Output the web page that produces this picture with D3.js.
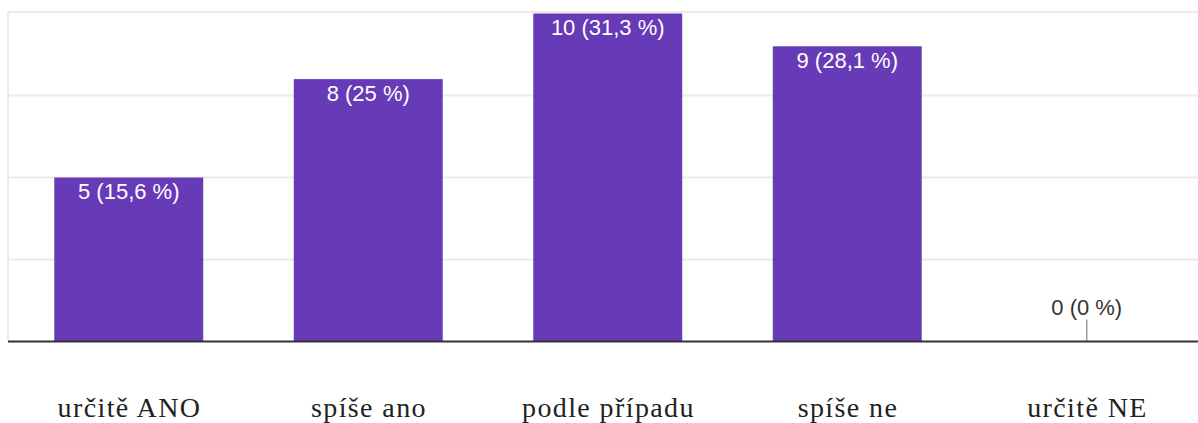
<!DOCTYPE html>
<html><head><meta charset="utf-8">
<script src="https://cdn.jsdelivr.net/npm/d3@7"></script>
<style>html,body{margin:0;padding:0;background:#fff;}svg{display:block;}</style>
</head><body>
<svg id="c" width="1198" height="423"></svg>
<script>
const categories = ["určitě ANO", "spíše ano", "podle případu", "spíše ne", "určitě NE"];
const counts = [5, 8, 10, 9, 0];
const labels = ["5 (15,6 %)", "8 (25 %)", "10 (31,3 %)", "9 (28,1 %)", "0 (0 %)"];
const gridTicks = [0, 2.5, 5, 7.5, 10];

const svg = d3.select("#c");
const plotLeft = 8, plotTop = 13.5, plotBottom = 341.5;
const x = d3.scaleBand().domain(categories).range([9, 9 + 5 * 239.5]).paddingInner(0.378).paddingOuter(0.189);
const y = d3.scaleLinear().domain([0, 10]).range([plotBottom, plotTop]);

// gridlines
svg.append("g").selectAll("line").data(gridTicks.filter(d => d > 0)).join("line")
  .attr("x1", plotLeft).attr("x2", 1198)
  .attr("y1", d => d === 10 ? 12 : y(d)).attr("y2", d => d === 10 ? 12 : y(d))
  .attr("stroke", "#ebebeb").attr("stroke-width", 2);
svg.append("line").attr("x1", plotLeft).attr("x2", plotLeft).attr("y1", 11).attr("y2", plotBottom)
  .attr("stroke", "#ebebeb").attr("stroke-width", 2);

// bars
svg.append("g").selectAll("rect").data(counts).join("rect")
  .attr("x", (d, i) => x(categories[i]))
  .attr("width", x.bandwidth())
  .attr("y", d => y(d))
  .attr("height", d => plotBottom - y(d))
  .attr("fill", "#673ab7");

// zero-value stub
counts.forEach((d, i) => {
  if (d === 0) {
    const cx = x(categories[i]) + x.bandwidth() / 2;
    svg.append("line").attr("x1", cx).attr("x2", cx).attr("y1", plotBottom - 22).attr("y2", plotBottom)
      .attr("stroke", "#9e9e9e").attr("stroke-width", 1.5);
  }
});

// baseline
svg.append("line").attr("x1", plotLeft).attr("x2", 1198).attr("y1", plotBottom).attr("y2", plotBottom)
  .attr("stroke", "#333").attr("stroke-width", 2);

// value labels
svg.append("g").selectAll("text").data(counts).join("text")
  .attr("x", (d, i) => x(categories[i]) + x.bandwidth() / 2)
  .attr("y", d => d === 0 ? plotBottom - 26.5 : y(d) + 21.5)
  .attr("text-anchor", "middle")
  .attr("font-family", "Liberation Sans, Arial, sans-serif")
  .attr("font-size", 22)
  .attr("fill", d => d === 0 ? "#333" : "#fff")
  .text((d, i) => labels[i]);

// category labels
const xAxis = svg.append("g").attr("transform", `translate(0,${plotBottom})`)
  .call(d3.axisBottom(x).tickSize(0).tickPadding(0));
xAxis.select(".domain").remove();
xAxis.selectAll("text")
  .attr("x", 0.7)
  .attr("y", 75.5).attr("dy", 0)
  .attr("font-family", "Liberation Serif, Times New Roman, serif")
  .attr("font-size", 28)
  .attr("letter-spacing", 1.4)
  .attr("fill", "#222");
</script>
</body></html>
